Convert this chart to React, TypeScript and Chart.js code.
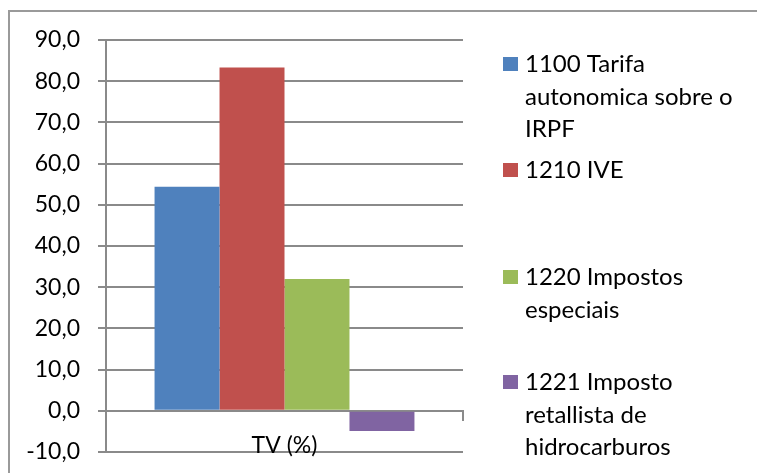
import React, { useEffect, useRef } from "react";
import { Chart, registerables } from "chart.js";

Chart.register(...registerables);

// ---- data ----
const categories = ["TV (%)"];
const seriesLabels = [
  ["1100 Tarifa", "autonomica sobre o", "IRPF"],
  ["1210 IVE"],
  ["1220 Impostos", "especiais"],
  ["1221 Imposto", "retallista de", "hidrocarburos"],
];
const seriesValues = [[54.4], [83.3], [32.0], [-4.9]];
const seriesColors = ["#4F81BD", "#C0504D", "#9BBB59", "#8064A2"];
const yMin = -10;
const yMax = 90;
const yStep = 10;

// ---- layout / style ----
const W = 757;
const H = 473;
const FONT_FAMILY = "Lato, 'Open Sans', sans-serif";
const FONT_SIZE = 23;
const LEGEND_FONT_SIZE = 24;
const GRID_COLOR = "#8a8a8a";
const LEGEND_BASELINES = [72, 178, 285, 390];
const LEGEND_LINE = 32.5;

const frame = {
  id: "frame",
  beforeDraw(chart: any) {
    const ctx = chart.ctx;
    ctx.save();
    ctx.strokeStyle = "#9a9a9a";
    ctx.lineWidth = 2;
    ctx.strokeRect(9, 11, W + 20, H + 20);
    ctx.restore();
  },
};

const sideLegend = {
  id: "sideLegend",
  afterDraw(chart: any) {
    const ctx = chart.ctx;
    ctx.save();
    ctx.font = `${LEGEND_FONT_SIZE}px ${FONT_FAMILY}`;
    ctx.textBaseline = "alphabetic";
    ctx.textAlign = "left";
    seriesLabels.forEach((lines, i) => {
      const base = LEGEND_BASELINES[i];
      ctx.fillStyle = seriesColors[i];
      ctx.fillRect(503, base - 15, 15, 14);
      ctx.fillStyle = "#000";
      lines.forEach((t, j) => ctx.fillText(t, 525, base + j * LEGEND_LINE));
    });
    ctx.restore();
  },
};

export default function App() {
  const ref = useRef<HTMLCanvasElement>(null);
  useEffect(() => {
    if (!ref.current) return;
    const font = { family: FONT_FAMILY, size: FONT_SIZE };
    const chart = new Chart(ref.current, {
      type: "bar",
      data: {
        labels: categories,
        datasets: seriesLabels.map((l, i) => ({
          label: l.join(" "),
          data: seriesValues[i],
          backgroundColor: seriesColors[i],
          borderWidth: 0,
          categoryPercentage: 0.728,
          barPercentage: 1,
        })),
      },
      options: {
        responsive: false,
        animation: false,
        layout: { padding: { top: 40, bottom: 21, left: 0, right: W - 463 } },
        plugins: { legend: { display: false }, tooltip: { enabled: false } },
        scales: {
          x: {
            position: { y: 0 } as any,
            offset: true,
            afterFit: (s: any) => {
              s.height = 0;
            },
            grid: {
              drawOnChartArea: false,
              drawTicks: true,
              tickLength: 9,
              color: GRID_COLOR,
              lineWidth: 2,
            },
            border: { color: GRID_COLOR, width: 2 },
            ticks: { font, color: "#000", padding: 12 },
          },
          y: {
            min: yMin,
            max: yMax,
            afterFit: (s: any) => {
              s.width = 106;
              s.paddingTop = 0;
              s.paddingBottom = 0;
            },
            ticks: {
              stepSize: yStep,
              font,
              color: "#000",
              padding: 18,
              callback: (v: any) => Number(v).toFixed(1).replace(".", ","),
            },
            grid: { color: GRID_COLOR, lineWidth: 2, tickLength: 8 },
            border: { color: GRID_COLOR, width: 2 },
          },
        },
      },
      plugins: [frame, sideLegend],
    });
    return () => chart.destroy();
  }, []);
  return (
    <div style={{ position: "absolute", left: 0, top: 0, width: W, height: H }}>
      <canvas ref={ref} width={W} height={H} style={{ width: W, height: H }} />
    </div>
  );
}
